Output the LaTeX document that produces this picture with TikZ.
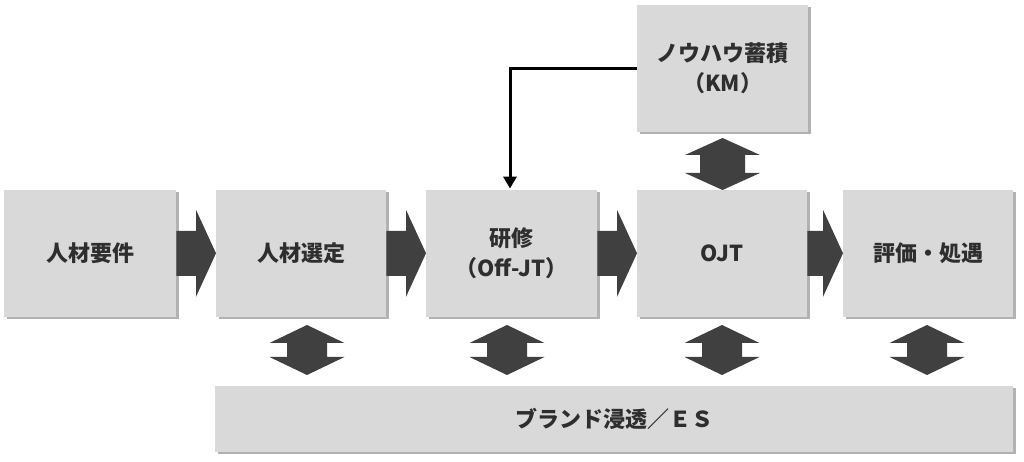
\documentclass[tikz,border=0pt]{standalone}
\usepackage{fontspec}
\setmainfont{Noto Sans CJK JP}
\usetikzlibrary{shadows,arrows.meta,calc}
\definecolor{boxgray}{HTML}{D9D9D9}
\definecolor{arrgray}{HTML}{404040}
\definecolor{txt}{HTML}{2E2E2E}
\newcommand\hblock[2]{%
  \fill[arrgray] ($(#1.east)+(0,22.5)$) -- ($(#2.west)+(-20,22.5)$) -- ($(#2.west)+(-20,43.5)$)
   -- (#2.west) -- ($(#2.west)+(-20,-43.5)$) -- ($(#2.west)+(-20,-22.5)$)
   -- ($(#1.east)+(0,-22.5)$) -- cycle;}
\newcommand\vblock[5]{%
  \fill[arrgray] (#1,#2) -- (#1+37.5,#2-#5) -- (#1+#4,#2-#5) -- (#1+#4,#3+#5)
   -- (#1+37.5,#3+#5) -- (#1,#3) -- (#1-37.5,#3+#5) -- (#1-#4,#3+#5)
   -- (#1-#4,#2-#5) -- (#1-37.5,#2-#5) -- cycle;}
\begin{document}
\begin{tikzpicture}[x=1pt,y=1pt,
  box/.style={fill=boxgray, draw=none, anchor=south west, inner sep=0pt,
    align=center, text=txt, font=\bfseries\fontsize{22}{30}\selectfont,
    minimum height=127pt,
    drop shadow={shadow xshift=2.5pt, shadow yshift=-2.5pt, fill=black, opacity=0.3}}]
\useasboundingbox (0,0) rectangle (1024,462);
\node[box, minimum width=172pt] (B1) at (4,145) {人材要件};
\node[box, minimum width=170pt] (B2) at (216,145) {人材選定};
\node[box, minimum width=171pt] (B3) at (426,145) {研修\\（Off-JT）};
\node[box, minimum width=170pt] (B4) at (637,145) {OJT};
\node[box, minimum width=170pt] (B5) at (843,145) {評価・処遇};
\node[box, minimum width=171pt] (KM) at (637,330) {ノウハウ蓄積\\（KM）};
\node[box, minimum width=798pt, minimum height=66pt] (ES) at (215,10) {ブランド浸透／ＥＳ};
\hblock{B1}{B2}
\hblock{B2}{B3}
\hblock{B3}{B4}
\hblock{B4}{B5}
\vblock{722.5}{324}{272}{22.5}{17}
\vblock{307}{137}{87}{20}{18}
\vblock{507}{137}{87}{20}{18}
\vblock{722}{137}{87}{20}{18}
\vblock{927}{137}{87}{20}{18}
\draw[line width=3pt, -{Triangle[width=13pt,length=12pt]}, shorten >=1pt]
  (KM.west) -| ($(B3.north west)+(84,0)$);
\end{tikzpicture}
\end{document}
